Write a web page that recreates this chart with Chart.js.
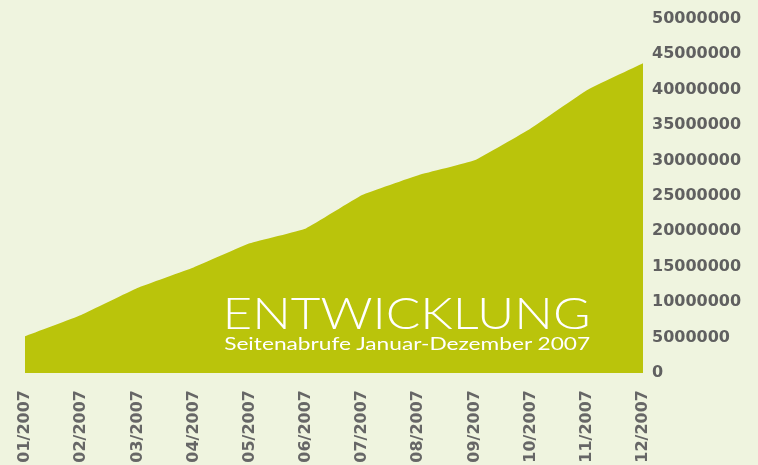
<!DOCTYPE html>
<html>

<head>
    <meta charset="utf-8" />
    <style>
        html, body { margin: 0; padding: 0; background: #eff4df; }
        #wrap { position: relative; width: 758px; height: 465px; background: #eff4df; }
        #titleBox { position: absolute; right: 168px; top: 290px; text-align: right; color: #ffffff; font-family: Lato, "Open Sans", sans-serif; }
        #title { display: inline-block; font-size: 44px; font-weight: 300; line-height: 44px; transform-origin: right center; white-space: nowrap; }
        #subtitle { display: inline-block; font-size: 17px; font-weight: 400; line-height: 20px; transform-origin: right center; white-space: nowrap; }
    </style>
</head>

<body>
    <div id="wrap">
        <canvas id="growthChart" width="758" height="465"></canvas>
        <div id="titleBox">
            <span id="title">ENTWICKLUNG</span><br>
            <span id="subtitle">Seitenabrufe Januar-Dezember 2007</span>
        </div>
    </div>

    <script src="https://cdn.jsdelivr.net/npm/chart.js@4/dist/chart.umd.min.js"></script>

    <script>
        // monthly page views 2007
        const months = ["01/2007", "02/2007", "03/2007", "04/2007", "05/2007", "06/2007",
            "07/2007", "08/2007", "09/2007", "10/2007", "11/2007", "12/2007"];
        const pageViews = [5200000, 8200000, 12000000, 14900000, 18300000, 20400000,
            25100000, 27900000, 30000000, 34500000, 39900000, 43700000];
        const yMax = 50000000;
        const yStep = 5000000;

        // stretch title lines to the width used in the original
        function fitWidth(id, w) {
            let el = document.getElementById(id);
            let cur = el.getBoundingClientRect().width;
            el.style.transform = 'scaleX(' + (w / cur) + ')';
        }
        fitWidth('title', 368);
        fitWidth('subtitle', 366);

        let ctx = document.getElementById('growthChart');
        let growthChart = new Chart(ctx, {
            type: 'line',
            data: {
                labels: months,
                datasets: [{
                    data: pageViews,
                    fill: 'origin',
                    backgroundColor: '#bac40b',
                    borderWidth: 0,
                    pointRadius: 0,
                    tension: 0.1
                }]
            },
            options: {
                responsive: false,
                animation: false,
                layout: {
                    padding: { left: 25, top: 18, right: 0, bottom: 0 }
                },
                plugins: {
                    legend: { display: false },
                    tooltip: { enabled: false }
                },
                scales: {
                    x: {
                        offset: false,
                        grid: { display: false },
                        border: { display: false },
                        ticks: {
                            minRotation: 90,
                            maxRotation: 90,
                            padding: 9,
                            color: '#666666',
                            font: { family: "DejaVu Sans", size: 16, weight: "bold" }
                        },
                        afterFit: function (scale) { scale.height = 92; }
                    },
                    y: {
                        position: 'right',
                        min: 0,
                        max: yMax,
                        grid: { display: false, drawTicks: false },
                        border: { display: false },
                        ticks: {
                            stepSize: yStep,
                            padding: 9,
                            color: '#606060',
                            font: { family: "DejaVu Sans", size: 16, weight: "bold" },
                            callback: function (v) { return String(v); }
                        },
                        afterFit: function (scale) { scale.width = 115; }
                    }
                }
            }
        });
    </script>
</body>

</html>
